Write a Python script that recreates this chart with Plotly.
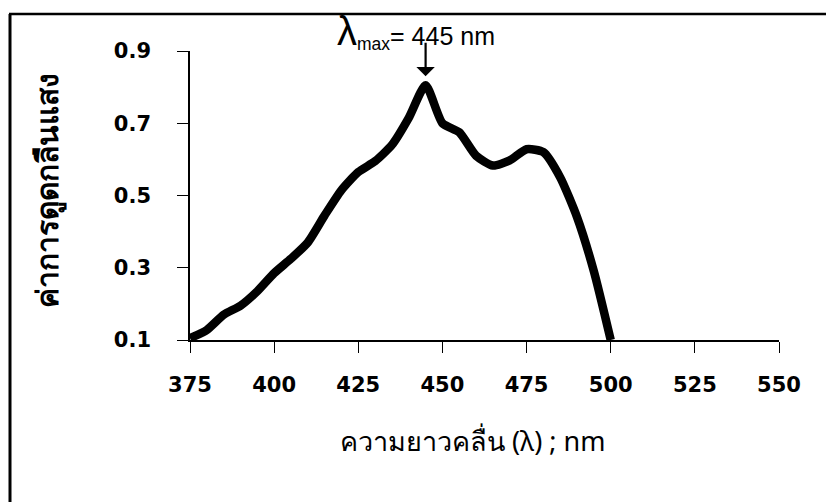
import plotly.graph_objects as go

# Data
wavelength = [375, 380, 385, 390, 395, 400, 405, 410, 415, 420, 425, 430, 435,
              440, 445, 450, 455, 460, 465, 470, 475, 480, 485, 490, 495, 500]
absorbance = [0.105, 0.128, 0.170, 0.195, 0.235, 0.285, 0.325, 0.370, 0.445, 0.515,
              0.565, 0.595, 0.640, 0.715, 0.805, 0.700, 0.675, 0.610, 0.583, 0.597,
              0.628, 0.620, 0.550, 0.440, 0.290, 0.100]
x_ticks = [375, 400, 425, 450, 475, 500, 525, 550]
y_ticks = [0.1, 0.3, 0.5, 0.7, 0.9]
peak_wavelength = 445

W, H = 826, 502
L, R, T, B = 190, 47, 51, 162
pw, ph = W - L - R, H - T - B

def px_x(p):
    return (p - L) / pw

def px_y(p):
    return (H - B - p) / ph

fig = go.Figure()
fig.add_trace(go.Scatter(
    x=wavelength, y=absorbance, mode="lines",
    line=dict(color="black", width=8.5, shape="spline", smoothing=0.6),
    cliponaxis=False, showlegend=False, hoverinfo="skip"))

tick_font = dict(family="DejaVu Sans, Liberation Sans, sans-serif", size=21, color="black", weight="bold")

fig.update_layout(
    width=W, height=H,
    margin=dict(l=L, r=R, t=T, b=B),
    paper_bgcolor="white", plot_bgcolor="white",
    xaxis=dict(range=[375, 550], tickvals=x_ticks, ticktext=[str(v) for v in x_ticks],
               showgrid=False, zeroline=False, showline=True, linecolor="black", linewidth=1.5,
               ticks="outside", ticklen=11, tickwidth=1, tickcolor="black",
               tickfont=tick_font, ticklabelstandoff=14),
    yaxis=dict(range=[0.1, 0.9], tickvals=y_ticks, ticktext=["0.1", "0.3", "0.5", "0.7", "0.9"],
               showgrid=False, zeroline=False, showline=True, linecolor="black", linewidth=1.5,
               ticks="outside", ticklen=11, tickwidth=1, tickcolor="black",
               tickfont=tick_font, ticklabelstandoff=22),
    font=dict(family="Liberation Sans, Arial, sans-serif", color="black"),
)

# Outer frame (left and top edges)
fig.add_shape(type="line", xref="paper", yref="paper",
              x0=px_x(10), x1=px_x(10), y0=px_y(14), y1=px_y(502),
              line=dict(color="black", width=3))
fig.add_shape(type="line", xref="paper", yref="paper",
              x0=px_x(9), x1=px_x(826), y0=px_y(14), y1=px_y(14),
              line=dict(color="black", width=2.5))

# Axis titles
fig.add_annotation(text="ค่าการดูดกลืนแสง", xref="paper", yref="paper",
                   x=px_x(46), y=px_y(191), xanchor="center", yanchor="middle",
                   textangle=-90, showarrow=False,
                   font=dict(size=30, color="black", family="Noto Sans, Liberation Sans, sans-serif", weight="bold"))
fig.add_annotation(text="ความยาวคลื่น (λ) ; nm", xref="paper", yref="paper",
                   x=px_x(472), y=px_y(440), xanchor="center", yanchor="middle", showarrow=False,
                   font=dict(size=27, color="black", family="Noto Sans, Liberation Sans, sans-serif"))

# Lambda max label with arrow
peak_idx = wavelength.index(peak_wavelength)
fig.add_annotation(text="<span style='font-size:40px'>λ</span><sub>max</sub>= %d nm" % peak_wavelength,
                   xref="paper", yref="paper", x=px_x(416), y=px_y(31),
                   xanchor="center", yanchor="middle", showarrow=False,
                   font=dict(size=25, color="black", family="Liberation Sans, Arial, sans-serif"))
fig.add_annotation(x=peak_wavelength, y=absorbance[peak_idx], xref="x", yref="y",
                   text="", showarrow=True, arrowhead=1, arrowsize=1.4, arrowwidth=2.2,
                   arrowcolor="black", ax=0, ay=-44, standoff=9)

fig.write_html("out.html")
